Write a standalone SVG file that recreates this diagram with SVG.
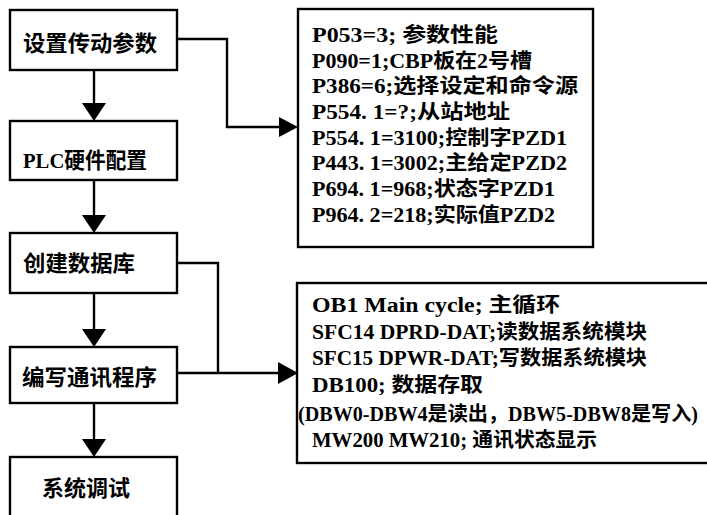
<svg xmlns="http://www.w3.org/2000/svg" width="707" height="515" viewBox="0 0 707 515">
<style>
.box{fill:#fff;stroke:#000;stroke-width:2.4}
.lbl{font-family:"Liberation Serif","Noto Sans CJK SC",serif;font-weight:bold;font-size:22px;fill:#000}
.t{font-family:"Liberation Serif","Noto Sans CJK SC",serif;font-weight:bold;font-size:20px;fill:#000}
.ln{fill:none;stroke:#000;stroke-width:2.4}
.ah{fill:#000;stroke:none}
</style>
<rect width="707" height="515" fill="#fff"/>
<g id="connectors">
<line class="ln" x1="94" y1="70" x2="94" y2="105"/>
<polygon class="ah" points="82,103 106,103 94,121"/>
<line class="ln" x1="94" y1="180" x2="94" y2="217"/>
<polygon class="ah" points="82,215 106,215 94,233"/>
<line class="ln" x1="94" y1="293" x2="94" y2="331"/>
<polygon class="ah" points="82,329 106,329 94,347"/>
<line class="ln" x1="94" y1="403" x2="94" y2="441"/>
<polygon class="ah" points="82,439 106,439 94,457"/>
<polyline class="ln" points="177,39 227,39 227,127 282,127"/>
<polygon class="ah" points="279,117 298,127 279,137"/>
<polyline class="ln" stroke-width="2" points="177,263 218,263 218,373"/>
<line class="ln" stroke-width="3.6" x1="177" y1="373" x2="282" y2="373"/>
<polygon class="ah" points="278,362 298,373 278,384"/>
</g>
<g id="n1"><rect class="box" x="10" y="10" width="167" height="60"/><text class="lbl" x="23" y="51" textLength="134" lengthAdjust="spacingAndGlyphs">设置传动参数</text></g>
<g id="n2"><rect class="box" x="10" y="121" width="167" height="59"/><text class="lbl" x="23" y="168" textLength="124" lengthAdjust="spacingAndGlyphs">PLC硬件配置</text></g>
<g id="n3"><rect class="box" x="10" y="233" width="167" height="60"/><text class="lbl" x="23" y="271" textLength="112" lengthAdjust="spacingAndGlyphs">创建数据库</text></g>
<g id="n4"><rect class="box" x="10" y="347" width="167" height="56"/><text class="lbl" x="22" y="385" textLength="135" lengthAdjust="spacingAndGlyphs">编写通讯程序</text></g>
<g id="n5"><rect class="box" x="10" y="457" width="167" height="80"/><text class="lbl" x="42" y="496" textLength="88" lengthAdjust="spacingAndGlyphs">系统调试</text></g>
<g id="params">
<rect class="box" x="298" y="9" width="295" height="238"/>
<text class="t" x="312" y="42" textLength="186" lengthAdjust="spacingAndGlyphs">P053=3; 参数性能</text>
<text class="t" x="312" y="68" textLength="220" lengthAdjust="spacingAndGlyphs">P090=1;CBP板在2号槽</text>
<text class="t" x="312" y="93" textLength="266" lengthAdjust="spacingAndGlyphs">P386=6;选择设定和命令源</text>
<text class="t" x="312" y="119" textLength="198" lengthAdjust="spacingAndGlyphs">P554. 1=?;从站地址</text>
<text class="t" x="312" y="145" textLength="255" lengthAdjust="spacingAndGlyphs">P554. 1=3100;控制字PZD1</text>
<text class="t" x="312" y="170" textLength="255" lengthAdjust="spacingAndGlyphs">P443. 1=3002;主给定PZD2</text>
<text class="t" x="312" y="196" textLength="243" lengthAdjust="spacingAndGlyphs">P694. 1=968;状态字PZD1</text>
<text class="t" x="312" y="222" textLength="243" lengthAdjust="spacingAndGlyphs">P964. 2=218;实际值PZD2</text>
</g>
<g id="program">
<rect class="box" x="297" y="283" width="430" height="180"/>
<text class="t" x="312" y="312" textLength="248" lengthAdjust="spacingAndGlyphs">OB1 Main cycle; 主循环</text>
<text class="t" x="312" y="339" textLength="335" lengthAdjust="spacingAndGlyphs">SFC14 DPRD-DAT;读数据系统模块</text>
<text class="t" x="312" y="365" textLength="335" lengthAdjust="spacingAndGlyphs">SFC15 DPWR-DAT;写数据系统模块</text>
<text class="t" x="312" y="392" textLength="171" lengthAdjust="spacingAndGlyphs">DB100; 数据存取</text>
<text class="t" x="298" y="421" textLength="400" lengthAdjust="spacingAndGlyphs">(DBW0-DBW4是读出，DBW5-DBW8是写入)</text>
<text class="t" x="312" y="447" textLength="285" lengthAdjust="spacingAndGlyphs">MW200 MW210; 通讯状态显示</text>
</g>
</svg>
